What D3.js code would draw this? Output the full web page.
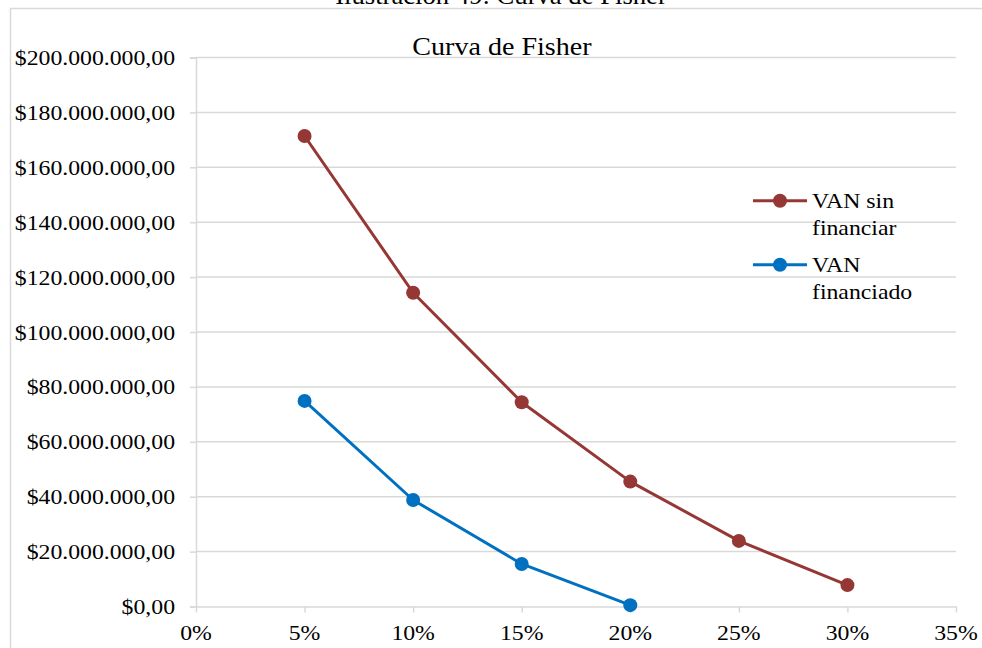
<!DOCTYPE html>
<html>
<head>
<meta charset="utf-8">
<script src="https://cdn.jsdelivr.net/npm/d3@7"></script>
<style>
  html, body { margin: 0; padding: 0; background: #fff; }
  svg { display: block; }
  text { font-family: "Liberation Serif", "Times New Roman", serif; fill: #000; }
</style>
</head>
<body>
<svg id="chart" width="982" height="648"></svg>
<script>
// Discount rates (x) and NPV values in pesos
const rates = [0.05, 0.10, 0.15, 0.20, 0.25, 0.30];
const vanSinFinanciar = [171400000, 114300000, 74400000, 45500000, 23900000, 7800000];
const vanFinanciado = [74900000, 38800000, 15500000, 500000];
const seriesNames = ["VAN sin financiar", "VAN financiado"];
const legendLines = [["VAN sin", "financiar"], ["VAN", "financiado"]];
const seriesColors = ["#953735", "#0070C0"];
const yTicks = [0, 20000000, 40000000, 60000000, 80000000, 100000000, 120000000, 140000000, 160000000, 180000000, 200000000];
const xTicks = [0, 0.05, 0.10, 0.15, 0.20, 0.25, 0.30, 0.35];
const captionText = "Ilustración 49: Curva de Fisher";
const titleText = "Curva de Fisher";

const svg = d3.select("#chart");
const SX = 1.08; // horizontal stretch applied to text

const locale = d3.formatLocale({ decimal: ",", thousands: ".", grouping: [3], currency: ["$", ""] });
const fmtMoney = locale.format("$,.2f");
const fmtPct = d3.format(".0%");

const x = d3.scaleLinear().domain([0, 0.35]).range([196, 956]);
const y = d3.scaleLinear().domain([0, 200000000]).range([606.5, 57.5]);

function stretchedText(sel, tx, ty, str, size, anchor) {
  return sel.append("text")
    .attr("transform", `translate(${tx},${ty}) scale(${SX},1)`)
    .attr("text-anchor", anchor || "start")
    .style("font-size", size + "px")
    .text(str);
}

// caption above the chart frame
stretchedText(svg, 501, 4, captionText, 24.7, "middle");

// chart frame
svg.append("rect")
  .attr("x", 10.5).attr("y", 8.5).attr("width", 1000).attr("height", 700)
  .attr("fill", "none").attr("stroke", "#d9d9d9").attr("stroke-width", 1.5);

// chart title
stretchedText(svg, 502, 54.5, titleText, 26, "middle");

// horizontal gridlines
svg.append("g").selectAll("line").data(yTicks.filter(d => d > 0)).join("line")
  .attr("x1", x(0)).attr("x2", x(0.35))
  .attr("y1", d => y(d)).attr("y2", d => y(d))
  .attr("stroke", "#d9d9d9").attr("stroke-width", 1.5);

// y axis
const yAxis = svg.append("g").attr("transform", `translate(${x(0)},0)`)
  .call(d3.axisLeft(y).tickValues(yTicks).tickSize(6).tickFormat(""));
yAxis.select(".domain").attr("stroke", "#d9d9d9").attr("stroke-width", 1.5);
yAxis.selectAll(".tick line").attr("stroke", "#d9d9d9").attr("stroke-width", 1.5);
yTicks.forEach(t => stretchedText(svg, 175, y(t) + 7.5, fmtMoney(t), 22, "end"));

// x axis
const xAxis = svg.append("g").attr("transform", `translate(0,${y(0)})`)
  .call(d3.axisBottom(x).tickValues(xTicks).tickSize(6).tickSizeOuter(0).tickFormat(""));
xAxis.select(".domain").attr("stroke", "#d9d9d9").attr("stroke-width", 1.5);
xAxis.selectAll(".tick line").attr("stroke", "#d9d9d9").attr("stroke-width", 1.5);
xTicks.forEach(t => stretchedText(svg, x(t), 640, fmtPct(t), 22, "middle"));

// series
const series = [vanSinFinanciar, vanFinanciado];
const line = d3.line().x(d => x(d[0])).y(d => y(d[1]));
series.forEach((vals, i) => {
  const pts = vals.map((v, j) => [rates[j], v]);
  const g = svg.append("g").attr("class", "series");
  g.append("path").datum(pts)
    .attr("d", line).attr("fill", "none")
    .attr("stroke", seriesColors[i]).attr("stroke-width", 3)
    .attr("stroke-linejoin", "round");
  g.selectAll("circle").data(pts).join("circle")
    .attr("cx", d => x(d[0])).attr("cy", d => y(d[1])).attr("r", 7)
    .attr("fill", seriesColors[i]);
});

// legend
const legend = svg.append("g").attr("class", "legend");
const legendY = [200.7, 264.7];
seriesNames.forEach((name, i) => {
  const ly = legendY[i];
  legend.append("line")
    .attr("x1", 753).attr("x2", 807).attr("y1", ly).attr("y2", ly)
    .attr("stroke", seriesColors[i]).attr("stroke-width", 3);
  legend.append("circle").attr("cx", 780).attr("cy", ly).attr("r", 7).attr("fill", seriesColors[i]);
  legendLines[i].forEach((s, k) => stretchedText(legend, 812, ly + 7.5 + k * 27, s, 22, "start"));
});
</script>
</body>
</html>
